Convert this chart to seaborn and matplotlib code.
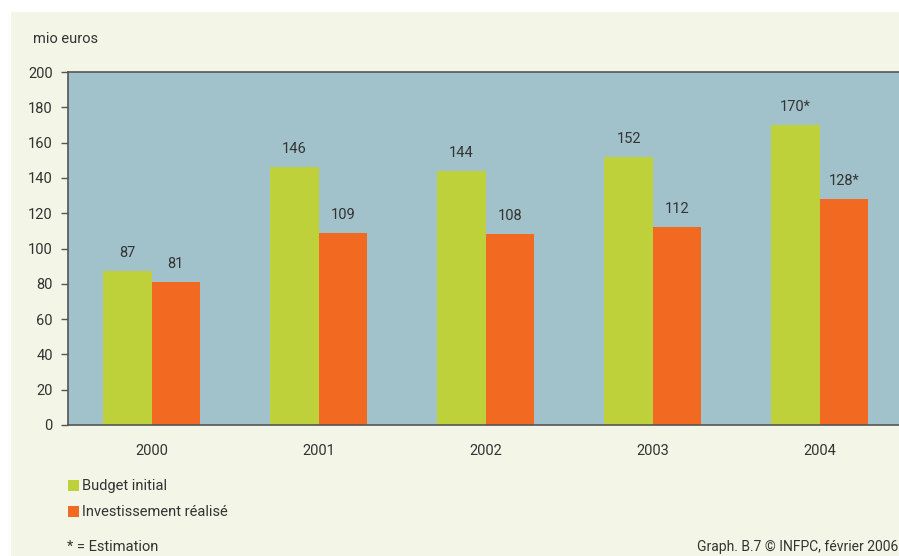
import matplotlib
matplotlib.use("Agg")
import matplotlib.pyplot as plt
from matplotlib.patches import Rectangle
import seaborn as sns
import pandas as pd

years = ["2000", "2001", "2002", "2003", "2004"]
budget_initial = [87, 146, 144, 152, 170]
investissement = [81, 109, 108, 112, 128]
estimated = [False, False, False, False, True]
series_names = ["Budget initial", "Investissement réalisé"]
y_ticks = [0, 20, 40, 60, 80, 100, 120, 140, 160, 180, 200]

GREEN = "#bfd13a"
ORANGE = "#f26a22"
PLOT_BG = "#a2c2cb"
PAGE_BG = "#f3f5e7"
INK = "#333333"

df = pd.DataFrame({
    "year": years * 2,
    "value": budget_initial + investissement,
    "serie": [series_names[0]] * len(years) + [series_names[1]] * len(years),
})

sns.set_theme(style="white")
plt.rcParams["font.family"] = ["Roboto", "DejaVu Sans"]

W, H = 899, 556
fig = plt.figure(figsize=(W / 100, H / 100), dpi=100)
fig.patch.set_facecolor("white")
page = Rectangle((11 / W, 0), 1, 1 - 12 / H, transform=fig.transFigure,
                 facecolor=PAGE_BG, edgecolor="none", zorder=-10)
fig.add_artist(page)

ax_left, ax_right = 68, 903.5
ax_top, ax_bottom = 72, 425
ax = fig.add_axes([ax_left / W, 1 - ax_bottom / H,
                   (ax_right - ax_left) / W, (ax_bottom - ax_top) / H])
ax.set_zorder(1)
ax.set_facecolor(PLOT_BG)

sns.barplot(data=df, x="year", y="value", hue="serie", order=years,
            hue_order=series_names, palette=[GREEN, ORANGE], width=0.58,
            saturation=1, legend=False, linewidth=0, edgecolor="none",
            ax=ax, zorder=2)

for container, vals in zip(ax.containers, [budget_initial, investissement]):
    labels = [f"{v}*" if est else f"{v}" for v, est in zip(vals, estimated)]
    ax.bar_label(container, labels=labels, padding=8, fontsize=10.5, color=INK)

ax.set_xlim(-0.5, 4.5)
ax.set_ylim(0, 200)
ax.set_yticks(y_ticks)
ax.set_yticklabels([str(t) for t in y_ticks])
ax.set_xlabel("")
ax.set_ylabel("")
ax.tick_params(axis="y", length=5, width=1, color="#555555", labelsize=10.5,
               labelcolor=INK, pad=6, left=True)
ax.tick_params(axis="x", length=0, labelsize=10.5, labelcolor=INK, pad=14)
for side in ["left", "bottom", "top"]:
    ax.spines[side].set_visible(True)
    ax.spines[side].set_color("#555555")
    ax.spines[side].set_linewidth(1.2)
ax.spines["right"].set_visible(False)

fig.text(33 / W, 1 - 39 / H, "mio euros", fontsize=10.5, color=INK, va="center")

# legend
for i, (name, col) in enumerate(zip(series_names, [GREEN, ORANGE])):
    yc = 486 + 26 * i
    fig.add_artist(Rectangle((68 / W, 1 - (yc + 5) / H), 11 / W, 11 / H,
                             transform=fig.transFigure, facecolor=col,
                             edgecolor="none", zorder=3))
    fig.text(82 / W, 1 - yc / H, name, fontsize=10.5, color=INK, va="center")

fig.text(67 / W, 1 - 547 / H, "* = Estimation", fontsize=10.5, color=INK, va="center")
fig.text(697 / W, 1 - 547 / H, "Graph. B.7 © INFPC, février 2006", fontsize=10,
         color=INK, va="center")

fig.savefig("out.png", dpi=100, facecolor=fig.get_facecolor())
